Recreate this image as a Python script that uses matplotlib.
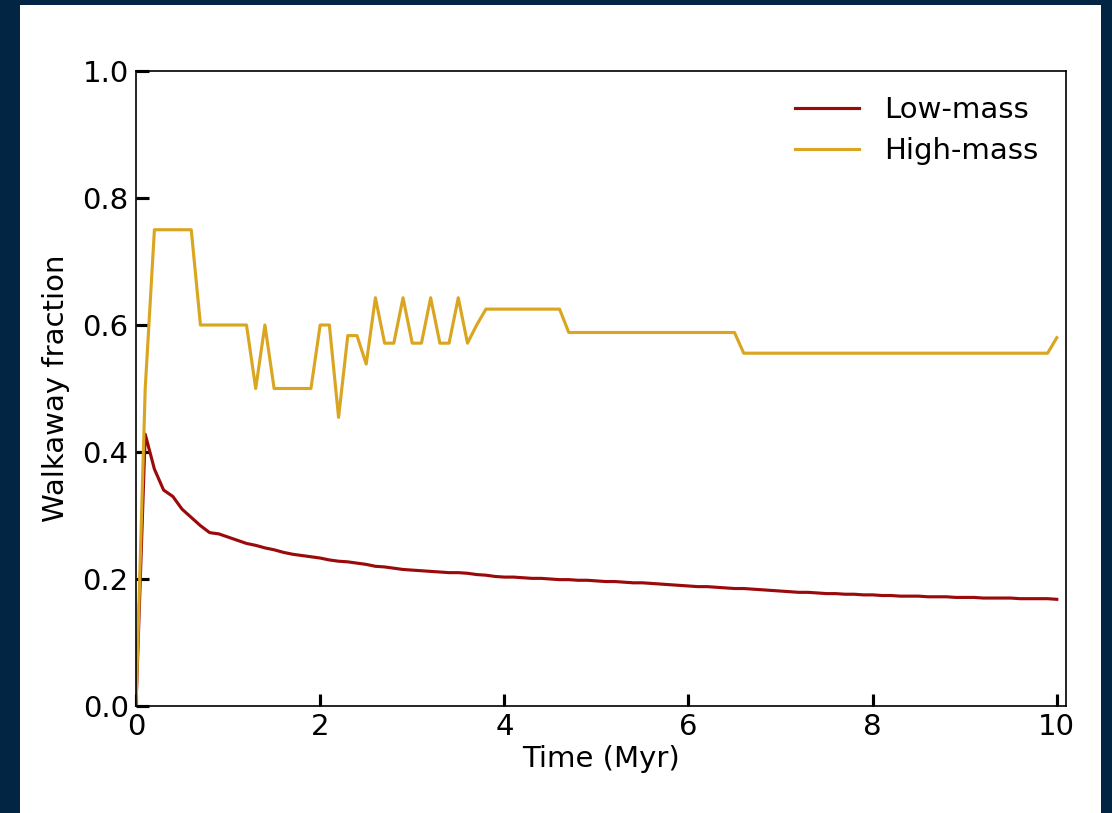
import numpy as np
import matplotlib
matplotlib.use("Agg")
import matplotlib.pyplot as plt
from matplotlib.patches import Rectangle

# Time grid (Myr) and walkaway fractions for the two mass bins
time_myr = [round(0.1 * i, 1) for i in range(101)]

low_mass = [
    0.000, 0.428, 0.373, 0.340, 0.330, 0.310, 0.297, 0.284, 0.273, 0.271,
    0.266, 0.261, 0.256, 0.253, 0.249, 0.246, 0.242, 0.239, 0.237, 0.235,
    0.233, 0.230, 0.228, 0.227, 0.225, 0.223, 0.220, 0.219, 0.217, 0.215,
    0.214, 0.213, 0.212, 0.211, 0.210, 0.210, 0.209, 0.207, 0.206, 0.204,
    0.203, 0.203, 0.202, 0.201, 0.201, 0.200, 0.199, 0.199, 0.198, 0.198,
    0.197, 0.196, 0.196, 0.195, 0.194, 0.194, 0.193, 0.192, 0.191, 0.190,
    0.189, 0.188, 0.188, 0.187, 0.186, 0.185, 0.185, 0.184, 0.183, 0.182,
    0.181, 0.180, 0.179, 0.179, 0.178, 0.177, 0.177, 0.176, 0.176, 0.175,
    0.175, 0.174, 0.174, 0.173, 0.173, 0.173, 0.172, 0.172, 0.172, 0.171,
    0.171, 0.171, 0.170, 0.170, 0.170, 0.170, 0.169, 0.169, 0.169, 0.169,
    0.168,
]

high_mass = [
    0.000, 0.500, 0.750, 0.750, 0.750, 0.750, 0.750, 0.600, 0.600, 0.600,
    0.600, 0.600, 0.600, 0.500, 0.600, 0.500, 0.500, 0.500, 0.500, 0.500,
    0.600, 0.600, 0.4545, 0.5833, 0.5833, 0.5385, 0.6429, 0.5714, 0.5714, 0.6429,
    0.5714, 0.5714, 0.6429, 0.5714, 0.5714, 0.6429, 0.5714, 0.600, 0.625, 0.625,
    0.625, 0.625, 0.625, 0.625, 0.625, 0.625, 0.625, 0.5882, 0.5882, 0.5882,
    0.5882, 0.5882, 0.5882, 0.5882, 0.5882, 0.5882, 0.5882, 0.5882, 0.5882, 0.5882,
    0.5882, 0.5882, 0.5882, 0.5882, 0.5882, 0.5882, 0.5556, 0.5556, 0.5556, 0.5556,
    0.5556, 0.5556, 0.5556, 0.5556, 0.5556, 0.5556, 0.5556, 0.5556, 0.5556, 0.5556,
    0.5556, 0.5556, 0.5556, 0.5556, 0.5556, 0.5556, 0.5556, 0.5556, 0.5556, 0.5556,
    0.5556, 0.5556, 0.5556, 0.5556, 0.5556, 0.5556, 0.5556, 0.5556, 0.5556, 0.5556,
    0.580,
]

series_labels = ["Low-mass", "High-mass"]
series_colors = ["#9b0a0a", "#daa520"]

W, H, DPI = 1112, 813, 150
fig = plt.figure(figsize=(W / DPI, H / DPI), dpi=DPI, facecolor="#032544")

# white page on the navy background, kept underneath the axes
fig.patches.append(Rectangle((20 / W, 0), 1081 / W, 808 / H,
                             transform=fig.transFigure, facecolor="white",
                             edgecolor="none", zorder=-10))

ax = fig.add_axes([136 / W, 1 - 706 / H, (1066 - 136) / W, (706 - 71) / H])
ax.set_zorder(5)
ax.set_facecolor("white")

ax.plot(time_myr, low_mass, color=series_colors[0], lw=1.5, label=series_labels[0])
ax.plot(time_myr, high_mass, color=series_colors[1], lw=1.5, label=series_labels[1])

ax.set_xlim(0, 10.1)
ax.set_ylim(0, 1.0)
ax.set_xticks([0, 2, 4, 6, 8, 10])
ax.set_yticks([0.0, 0.2, 0.4, 0.6, 0.8, 1.0])
ax.tick_params(direction="in", length=6, width=1.5, labelsize=14,
               top=False, right=False)
ax.set_xlabel("Time (Myr)", fontsize=14, labelpad=2)
ax.set_ylabel("Walkaway fraction", fontsize=14, labelpad=6)

ax.legend(loc="upper right", frameon=False, fontsize=14,
          handlelength=2.2, handletextpad=0.85, labelspacing=0.45,
          bbox_to_anchor=(0.998, 1.002))

fig.savefig("out.png", dpi=DPI, facecolor=fig.get_facecolor())
